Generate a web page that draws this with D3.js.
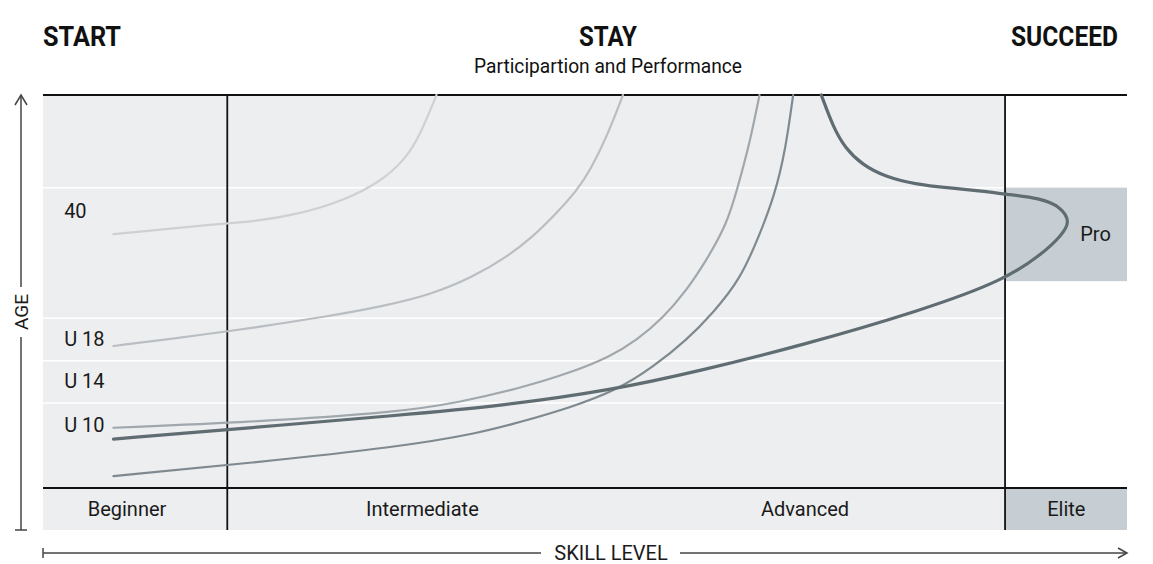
<!DOCTYPE html>
<html>
<head>
<meta charset="utf-8">
<script src="https://cdn.jsdelivr.net/npm/d3@7"></script>
<style>
  body { margin: 0; background: #fff; }
  text { font-family: Roboto, "Noto Sans", sans-serif; }
</style>
</head>
<body>
<script>
// phases along the top
const phases = ["START", "STAY", "SUCCEED"];
const subtitle = "Participartion and Performance";

// skill levels (x): band edges and label centres
const skillLevels = ["Beginner", "Intermediate", "Advanced", "Elite"];
const skillBreaks = [0, 17, 52, 88.75, 100];
const skillLabelAt = [7.75, 35, 70.3, 94.4];

// age rows (y), label positions and white row lines
const ageLabels = ["40", "U 18", "U 14", "U 10"];
const ageLabelLevels = [71.7, 42.3, 32.6, 22.5];
const ageBreaks = [29.2, 38.9, 48.7, 78.7];
const levelRowTop = 9.66;   // top of the skill-level row
const proZone = [57.2, 78.7];

// pathways, [skill, level]
const curve40 = [[6.5, 68.0], [17, 70.6], [19.1, 70.8], [23.7, 72.6], [27.9, 75.9], [31.1, 80.0], [33.4, 85.1], [34.8, 90.8], [36.3, 100]];
const curveU18 = [[6.5, 42.3], [14.5, 44.8], [19.1, 46.4], [26.5, 49.2], [31.1, 51.3], [35.7, 54.0], [39.7, 58.2], [42.8, 62.8], [45.2, 67.4], [47.4, 72.9], [49.3, 78.2], [50.5, 82.8], [52.0, 90.3], [53.5, 100]];
const curveU10 = [[6.5, 23.5], [19.1, 24.8], [32.9, 27.1], [38.5, 29.4], [44.0, 32.6], [48.6, 36.1], [52.3, 39.8], [54.8, 43.7], [57.2, 48.7], [59.4, 55.2], [61.1, 61.6], [63.1, 70.3], [64.1, 78.9], [65.2, 89.0], [66.1, 100]];
const curveLate = [[6.5, 12.4], [19.1, 15.4], [32.9, 19.1], [40.3, 22.3], [44.0, 24.8], [48.6, 28.1], [53.0, 32.2], [56.3, 37.5], [59.4, 43.7], [61.8, 49.9], [64.3, 57.5], [66.1, 67.8], [67.5, 77.0], [68.5, 87.4], [69.2, 100]];
const curvePro = [[6.5, 20.9], [19.1, 23.5], [32.9, 26.4], [42.2, 28.5], [52.6, 32.2], [60.6, 36.6], [69.8, 42.3], [81.2, 50.6], [88.75, 57.5], [92.3, 63.7], [93.9, 67.6], [94.8, 70.8], [93.9, 74.3], [92.0, 76.3], [88.75, 77.2], [86.7, 77.9], [83.7, 78.6], [80.4, 79.5], [77.7, 81.2], [75.6, 83.9], [74.0, 87.8], [72.9, 92.6], [71.8, 100]];

const width = 1153;
const height = 564;

const svg = d3.select("body")
  .append("svg")
  .attr("width", width)
  .attr("height", height);

const x = d3.scaleLinear().domain([0, 100]).range([43, 1127]);
const y = d3.scaleLinear().domain([0, 100]).range([530, 95]);

const panelRight = skillBreaks[3];

// grey panel
svg.append("rect")
  .attr("x", x(0)).attr("y", y(100))
  .attr("width", x(panelRight) - x(0))
  .attr("height", y(0) - y(100))
  .attr("fill", "#edeef0");

// Elite cell and Pro zone
svg.append("rect")
  .attr("x", x(panelRight)).attr("y", y(levelRowTop))
  .attr("width", x(100) - x(panelRight))
  .attr("height", y(0) - y(levelRowTop))
  .attr("fill", "#c6ced4");
svg.append("rect")
  .attr("x", x(panelRight)).attr("y", y(proZone[1]))
  .attr("width", x(100) - x(panelRight))
  .attr("height", y(proZone[0]) - y(proZone[1]))
  .attr("fill", "#c6ced4");

// white row lines
svg.selectAll(".row-line")
  .data(ageBreaks)
  .enter()
  .append("line")
  .attr("class", "row-line")
  .attr("x1", x(0)).attr("x2", x(panelRight))
  .attr("y1", d => y(d)).attr("y2", d => y(d))
  .attr("stroke", "#fff")
  .attr("stroke-width", 1.5);

// black frame lines
const frame = svg.append("g").attr("stroke", "#111").attr("stroke-width", 1.8);
frame.append("line").attr("x1", x(0)).attr("x2", x(100)).attr("y1", y(100)).attr("y2", y(100));
frame.append("line").attr("x1", x(0)).attr("x2", x(100)).attr("y1", y(levelRowTop)).attr("y2", y(levelRowTop));
[skillBreaks[1], skillBreaks[3]].forEach(s => {
  frame.append("line").attr("x1", x(s)).attr("x2", x(s)).attr("y1", y(100)).attr("y2", y(0));
});

// pathway curves (b-spline to keep them smooth)
const line = d3.line().x(d => x(d[0])).y(d => y(d[1])).curve(d3.curveBasis);
const curves = [
  { pts: curve40, color: "#cdd1d4", w: 2.2 },
  { pts: curveU18, color: "#b9bec2", w: 2.2 },
  { pts: curveU10, color: "#a0a8ad", w: 2.2 },
  { pts: curveLate, color: "#7f8a90", w: 2.2 },
  { pts: curvePro, color: "#5f6d72", w: 3.2 }
];
svg.selectAll(".curve")
  .data(curves)
  .enter()
  .append("path")
  .attr("class", "curve")
  .attr("d", d => line(d.pts))
  .attr("fill", "none")
  .attr("stroke", d => d.color)
  .attr("stroke-width", d => d.w)
  .attr("stroke-linecap", "round");

// age labels
svg.selectAll(".age-label")
  .data(ageLabels)
  .enter()
  .append("text")
  .attr("class", "age-label")
  .attr("x", x(1.95))
  .attr("y", (d, i) => y(ageLabelLevels[i]))
  .attr("font-size", 20)
  .attr("fill", "#1a1a1a")
  .text(d => d);

// skill level labels
svg.selectAll(".skill-label")
  .data(skillLevels)
  .enter()
  .append("text")
  .attr("class", "skill-label")
  .attr("x", (d, i) => x(skillLabelAt[i]))
  .attr("y", y(levelRowTop / 2))
  .attr("dy", "0.35em")
  .attr("text-anchor", "middle")
  .attr("font-size", 20)
  .attr("fill", "#1a1a1a")
  .text(d => d);

svg.append("text")
  .attr("x", x(97.1))
  .attr("y", y((proZone[0] + proZone[1]) / 2))
  .attr("dy", "0.35em")
  .attr("text-anchor", "middle")
  .attr("font-size", 20)
  .attr("fill", "#1a1a1a")
  .text("Pro");

// phase titles
const titleAnchor = ["start", "middle", "end"];
const titleX = [43, 608, 1118];
const titleLen = [78, 58, 107];
svg.selectAll(".phase")
  .data(phases)
  .enter()
  .append("text")
  .attr("class", "phase")
  .attr("x", (d, i) => titleX[i])
  .attr("y", 46)
  .attr("text-anchor", (d, i) => titleAnchor[i])
  .attr("font-size", 28)
  .attr("font-weight", 700)
  .attr("textLength", (d, i) => titleLen[i])
  .attr("lengthAdjust", "spacingAndGlyphs")
  .attr("fill", "#111")
  .text(d => d);

svg.append("text")
  .attr("x", 608)
  .attr("y", 73)
  .attr("text-anchor", "middle")
  .attr("font-size", 21)
  .attr("textLength", 268)
  .attr("lengthAdjust", "spacingAndGlyphs")
  .attr("fill", "#111")
  .text(subtitle);

// AGE axis arrow
const axisColor = "#444";
const ag = svg.append("g").attr("stroke", axisColor).attr("stroke-width", 1.5).attr("fill", "none");
ag.append("line").attr("x1", 21).attr("x2", 21).attr("y1", y(100)).attr("y2", 287);
ag.append("line").attr("x1", 21).attr("x2", 21).attr("y1", 337).attr("y2", y(0));
ag.append("line").attr("x1", 15).attr("x2", 27).attr("y1", y(0)).attr("y2", y(0));
ag.append("path").attr("d", `M15,${y(100) + 10}L21,${y(100)}L27,${y(100) + 10}`);
svg.append("text")
  .attr("transform", "translate(28,312) rotate(-90)")
  .attr("text-anchor", "middle")
  .attr("font-size", 19)
  .attr("fill", "#1a1a1a")
  .text("AGE");

// SKILL LEVEL axis arrow
const sg = svg.append("g").attr("stroke", axisColor).attr("stroke-width", 1.5).attr("fill", "none");
sg.append("line").attr("x1", x(0)).attr("x2", 541).attr("y1", 553).attr("y2", 553);
sg.append("line").attr("x1", 680).attr("x2", x(100)).attr("y1", 553).attr("y2", 553);
sg.append("line").attr("x1", x(0)).attr("x2", x(0)).attr("y1", 548).attr("y2", 558);
sg.append("path").attr("d", `M${x(100) - 9},548L${x(100)},553L${x(100) - 9},558`);
svg.append("text")
  .attr("x", 611)
  .attr("y", 553)
  .attr("dy", "0.35em")
  .attr("text-anchor", "middle")
  .attr("font-size", 20)
  .attr("fill", "#1a1a1a")
  .text("SKILL LEVEL");
</script>
</body>
</html>
